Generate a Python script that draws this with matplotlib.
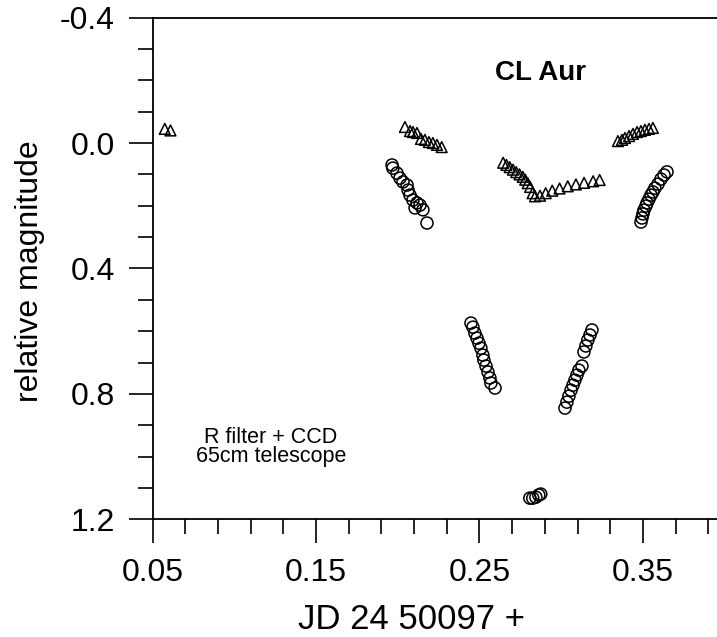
import matplotlib
matplotlib.use("Agg")
import matplotlib.pyplot as plt
from matplotlib.ticker import MultipleLocator, FixedLocator

plt.rcParams['font.family'] = ['Liberation Sans', 'DejaVu Sans']

# Circles (variable star, CL Aur)
circ_x = [0.1965, 0.197, 0.1995, 0.2014, 0.2032, 0.2057, 0.2063, 0.2075, 0.2093, 0.2118, 0.2136, 0.2106, 0.2154, 0.2179,
          0.2448, 0.2460, 0.2472, 0.2485, 0.2497, 0.2509, 0.2521, 0.2527, 0.2540, 0.2552, 0.2564, 0.2570, 0.2595,
          0.2808, 0.2826, 0.2845, 0.2863, 0.2875,
          0.3023, 0.3035, 0.3047, 0.3060, 0.3072, 0.3084, 0.3096, 0.3108, 0.3127,
          0.3139, 0.3151, 0.3163, 0.3176, 0.3188,
          0.3488, 0.3494, 0.3500, 0.3506, 0.3518, 0.3525, 0.3537, 0.3549, 0.3561, 0.3573, 0.3592, 0.3610, 0.3629, 0.3647]
circ_y = [0.070, 0.080, 0.096, 0.112, 0.124, 0.134, 0.150, 0.166, 0.182, 0.191, 0.198, 0.207, 0.213, 0.255,
          0.574, 0.587, 0.606, 0.622, 0.638, 0.654, 0.676, 0.692, 0.711, 0.730, 0.749, 0.765, 0.781,
          1.132, 1.132, 1.129, 1.122, 1.119,
          0.845, 0.826, 0.807, 0.788, 0.772, 0.756, 0.740, 0.724, 0.711,
          0.666, 0.647, 0.628, 0.612, 0.596,
          0.252, 0.239, 0.226, 0.214, 0.201, 0.191, 0.179, 0.166, 0.156, 0.144, 0.131, 0.115, 0.102, 0.092]

# Triangles (comparison star)
tri_x = [0.0575, 0.0610,
         0.2044, 0.2075, 0.2093, 0.2118, 0.2142, 0.2166, 0.2191, 0.2215, 0.2240, 0.2269,
         0.2645, 0.2665, 0.2685, 0.2705, 0.2725, 0.2745, 0.2765, 0.2780, 0.2795, 0.2810, 0.2825, 0.2840,
         0.2870, 0.2905, 0.2945, 0.2990, 0.3040, 0.3090, 0.3140, 0.3195, 0.3235]
tri_y = [-0.045, -0.040,
         -0.051, -0.038, -0.035, -0.032, -0.013, -0.010, -0.003, 0.000, 0.006, 0.013,
         0.063, 0.070, 0.077, 0.085, 0.093, 0.100, 0.108, 0.117, 0.128, 0.140, 0.160, 0.170,
         0.168, 0.160, 0.152, 0.145, 0.138, 0.132, 0.127, 0.122, 0.118]
tri_x += [0.3347, 0.3372, 0.3390, 0.3415, 0.3439, 0.3464, 0.3488, 0.3512, 0.3537, 0.3561]
tri_y += [-0.006, -0.010, -0.016, -0.022, -0.029, -0.035, -0.038, -0.042, -0.045, -0.048]

x_major = [0.05, 0.15, 0.25, 0.35]
y_major = [-0.4, 0.0, 0.4, 0.8, 1.2]
y_labels = ["-0.4", "0.0", "0.4", "0.8", "1.2"]

fig = plt.figure(figsize=(7.17, 6.37), dpi=100)
ax = fig.add_axes([0.2127, 0.1845, 0.7873, 0.788])

ax.scatter(circ_x, circ_y, s=75, marker='o', facecolors='none', edgecolors='black', linewidths=1.1, zorder=3)
ax.scatter(tri_x, tri_y, s=60, marker='^', facecolors='none', edgecolors='black', linewidths=1.1, zorder=3)

ax.set_xlim(0.05, 0.3953)
ax.set_ylim(1.2, -0.4)

ax.xaxis.set_major_locator(FixedLocator(x_major))
ax.set_xticklabels([f"{v:.2f}" for v in x_major])
ax.xaxis.set_minor_locator(MultipleLocator(0.02, offset=0.01))
ax.yaxis.set_major_locator(FixedLocator(y_major))
ax.set_yticklabels(y_labels)
ax.yaxis.set_minor_locator(MultipleLocator(0.1))

ax.tick_params(axis='both', which='major', direction='out', length=17, width=1.2, labelsize=23, pad=10)
ax.tick_params(axis='both', which='minor', direction='out', length=11, width=1.2)
ax.tick_params(axis='x', which='major', pad=11)

for side in ['left', 'bottom', 'top']:
    ax.spines[side].set_linewidth(1.3)
ax.spines['right'].set_visible(False)

ax.set_xlabel("JD 24 50097 +", fontsize=25)
ax.xaxis.set_label_coords(0.458, -0.167)
ax.set_ylabel("relative magnitude", fontsize=23)
ax.yaxis.set_label_coords(-0.19, 0.495)

ax.text(0.2876, -0.223, "CL Aur", fontsize=20, fontweight='bold', ha='center', va='center')
ax.text(0.1225, 0.969, "R filter + CCD\n65cm telescope", fontsize=15.5, ha='center', va='center', linespacing=0.9)

fig.savefig("out.png", dpi=100)
